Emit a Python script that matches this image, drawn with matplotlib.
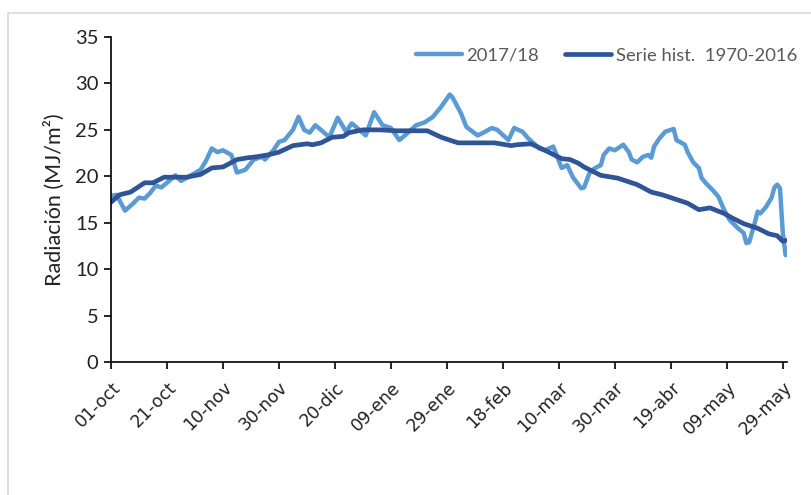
import matplotlib
matplotlib.use("Agg")
import matplotlib.pyplot as plt
from matplotlib.patches import Rectangle

# Daily radiation, days counted from 01-oct
dias_1718 = [0, 2, 5, 8, 10, 12, 14, 16, 18, 20, 23, 25, 28, 32, 34, 36, 38, 40, 43, 45,
             48, 51, 54, 55, 58, 60, 62, 65, 67, 69, 71, 73, 75, 78, 81, 84, 86, 88, 91, 94,
             97, 100, 103, 105, 109, 112, 115, 118, 121, 122, 125, 127, 131, 133, 136, 138,
             142, 144, 147, 149, 153, 155, 158, 161, 163, 165, 168, 169, 171, 173, 175, 176,
             178, 180, 183, 185, 186, 188, 190, 192, 193, 194, 196, 198, 201, 202, 205, 206,
             208, 210, 211, 213, 215, 217, 219, 221, 224, 226, 227, 228, 230, 231, 232, 234,
             236, 237, 238, 239, 240, 241]
rad_1718 = [17.9, 18.0, 16.3, 17.1, 17.7, 17.6, 18.2, 19.0, 18.8, 19.3, 20.1, 19.5, 20.0, 20.7,
            21.7, 23.0, 22.6, 22.8, 22.3, 20.4, 20.7, 21.8, 22.1, 21.8, 22.8, 23.7, 23.9, 25.0,
            26.4, 25.0, 24.7, 25.5, 25.0, 24.2, 26.3, 24.8, 25.7, 25.2, 24.4, 26.9, 25.5, 25.2,
            23.9, 24.4, 25.5, 25.8, 26.4, 27.5, 28.8, 28.5, 26.8, 25.3, 24.4, 24.7, 25.2, 25.0,
            23.9, 25.2, 24.8, 24.1, 23.0, 22.8, 23.2, 20.9, 21.2, 19.9, 18.7, 18.8, 20.4, 20.9,
            21.2, 22.3, 23.0, 22.8, 23.4, 22.6, 21.8, 21.5, 22.1, 22.3, 22.0, 23.2, 24.1, 24.8,
            25.1, 23.9, 23.4, 22.6, 21.5, 20.9, 19.8, 19.1, 18.5, 17.8, 16.4, 15.3, 14.4, 13.9,
            12.8, 12.9, 15.0, 16.2, 16.0, 16.7, 17.7, 18.8, 19.1, 18.7, 13.9, 11.5]

dias_hist = [0, 3, 7, 12, 15, 19, 22, 27, 32, 36, 40, 45, 49, 52, 56, 60, 65, 70, 72, 75,
             79, 83, 85, 90, 96, 102, 113, 118, 124, 137, 143, 145, 150, 155, 161, 164, 167,
             169, 175, 181, 183, 188, 193, 197, 202, 206, 210, 212, 214, 219, 222, 226, 231,
             235, 238, 240, 241]
rad_hist = [17.2, 18.0, 18.3, 19.3, 19.3, 19.9, 19.9, 19.9, 20.2, 20.9, 21.0, 21.8, 22.0, 22.1,
            22.3, 22.6, 23.3, 23.5, 23.4, 23.6, 24.2, 24.3, 24.7, 25.0, 25.0, 24.9, 24.9, 24.2,
            23.6, 23.6, 23.3, 23.4, 23.5, 22.8, 21.9, 21.8, 21.4, 21.0, 20.1, 19.8, 19.6, 19.1,
            18.3, 18.0, 17.5, 17.1, 16.4, 16.5, 16.6, 16.0, 15.5, 14.9, 14.4, 13.8, 13.6, 13.0,
            13.1]

tick_dias = [0, 20, 40, 60, 80, 100, 120, 140, 160, 180, 200, 220, 240]
tick_labels = ["01-oct", "21-oct", "10-nov", "30-nov", "20-dic", "09-ene", "29-ene",
               "18-feb", "10-mar", "30-mar", "19-abr", "09-may", "29-may"]

fig = plt.figure(figsize=(8.12, 4.95), dpi=100)
ax = fig.add_axes([111 / 812, 133 / 495, 676 / 812, 325 / 495])

# light chart-area border (Excel style)
fig.patches.append(Rectangle((8 / 812, -0.2), 1.0, 1.2 - 13 / 495, transform=fig.transFigure,
                             fill=False, edgecolor="#D9D9D9", linewidth=1.2))

ax.plot(dias_1718, rad_1718, color="#5B9BD5", lw=3.2, label="2017/18",
        solid_joinstyle="round", solid_capstyle="round")
ax.plot(dias_hist, rad_hist, color="#2F5597", lw=3.4, label="Serie hist.  1970-2016",
        solid_joinstyle="round", solid_capstyle="round")

ax.set_xlim(0, 241.5)
ax.set_ylim(0, 35)
ax.set_yticks(range(0, 36, 5))
ax.set_xticks(tick_dias)
ax.set_xticklabels(tick_labels, rotation=45, ha="right", rotation_mode="anchor",
                   fontsize=12.5, family="DejaVu Sans", color="#222222")
for lab in ax.get_yticklabels():
    lab.set_family("Lato")
    lab.set_fontsize(14.5)
    lab.set_color("#222222")

for s in ["top", "right"]:
    ax.spines[s].set_visible(False)
ax.spines["left"].set_linewidth(1.2)
ax.spines["bottom"].set_linewidth(1.2)
ax.tick_params(axis="both", direction="out", length=5, width=1.2, pad=4)
ax.tick_params(axis="x", pad=7)

ax.set_ylabel("Radiación (MJ/m²)", family="Lato", fontsize=15.5, color="#222222", labelpad=7)

leg = ax.legend(loc="upper right", bbox_to_anchor=(814 / 812, 464 / 495),
                bbox_transform=fig.transFigure, ncol=2, frameon=False,
                handlelength=2.5, handletextpad=0.25, columnspacing=1.4,
                prop={"family": "Lato", "size": 13.3})
for t in leg.get_texts():
    t.set_color("#595959")

fig.savefig("out.png", dpi=100)
